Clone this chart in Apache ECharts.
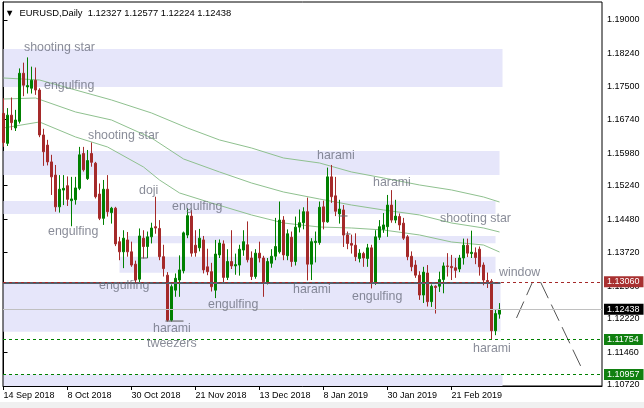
<!DOCTYPE html>
<html><head><meta charset="utf-8">
<script src="https://cdn.jsdelivr.net/npm/echarts@6/dist/echarts.min.js"></script>
<style>html,body{margin:0;padding:0;background:#fff}#c{width:644px;height:408px}</style>
</head><body><div id="c"></div>
<script>
// ---- data (EURUSD daily, 14 Sep 2018 - 11 Mar 2019) ----
const openP = [1.1688,1.1620,1.1684,1.1655,1.1670,1.1779,1.1748,1.1745,1.1763,1.1741,
1.1639,1.1616,1.1578,1.1548,1.1476,1.1514,1.1524,1.1490,1.1492,1.1518,
1.1597,1.1540,1.1597,1.1575,1.1505,1.1450,1.1516,1.1463,1.1473,1.1397,
1.1374,1.1401,1.1374,1.1346,1.1312,1.1405,1.1386,1.1408,1.1431,1.1427,
1.1363,1.1321,1.1219,1.1287,1.1310,1.1331,1.1412,1.1455,1.1389,1.1383,
1.1401,1.1340,1.1329,1.1287,1.1367,1.1392,1.1316,1.1352,1.1342,1.1344,
1.1378,1.1390,1.1360,1.1318,1.1371,1.1360,1.1303,1.1348,1.1364,1.1374,
1.1446,1.1365,1.1407,1.1352,1.1430,1.1440,1.1465,1.1346,1.1395,1.1395,
1.1476,1.1442,1.1544,1.1501,1.1460,1.1469,1.1412,1.1393,1.1389,1.1359,
1.1370,1.1359,1.1383,1.1303,1.1407,1.1425,1.1431,1.1480,1.1446,1.1454,
1.1439,1.1408,1.1364,1.1344,1.1321,1.1276,1.1326,1.1261,1.1296,1.1296,
1.1311,1.1342,1.1341,1.1338,1.1335,1.1360,1.1389,1.1370,1.1372,1.1380,
1.1344,1.1309,1.1307,1.1195,1.12327];
const highP = [1.1722,1.1700,1.1724,1.1696,1.1790,1.1803,1.1815,1.1794,1.1792,1.1745,
1.1653,1.1628,1.1594,1.1571,1.1548,1.1548,1.1545,1.1544,1.1544,1.1612,
1.1612,1.1605,1.1622,1.1578,1.1529,1.1537,1.1548,1.1476,1.1476,1.1408,
1.1423,1.1419,1.1397,1.1354,1.1427,1.1423,1.1420,1.1440,1.1499,1.1446,
1.1390,1.1328,1.1300,1.1325,1.1366,1.1420,1.1473,1.1469,1.1423,1.1426,
1.1410,1.1381,1.1349,1.1401,1.1402,1.1400,1.1380,1.1423,1.1370,1.1390,
1.1423,1.1443,1.1375,1.1380,1.1397,1.1365,1.1360,1.1380,1.1451,1.1488,
1.1455,1.1425,1.1420,1.1454,1.1470,1.1475,1.1497,1.1405,1.1420,1.1488,
1.1490,1.1565,1.1571,1.1544,1.1492,1.1480,1.1420,1.1413,1.1416,1.1380,
1.1374,1.1392,1.1390,1.1423,1.1446,1.1462,1.1503,1.1514,1.1492,1.1461,
1.1451,1.1412,1.1375,1.1355,1.1330,1.1340,1.1344,1.1300,1.1298,1.1329,
1.1350,1.1371,1.1367,1.1360,1.1367,1.1404,1.1404,1.1422,1.1384,1.1386,
1.1350,1.1327,1.1312,1.1242,1.12577];
const lowP = [1.1612,1.1614,1.1650,1.1648,1.1665,1.1727,1.1733,1.1733,1.1730,1.1634,
1.1569,1.1570,1.1503,1.1465,1.1463,1.1480,1.1478,1.1432,1.1481,1.1514,
1.1556,1.1537,1.1567,1.1495,1.1446,1.1435,1.1454,1.1438,1.1387,1.1355,
1.1337,1.1363,1.1340,1.1302,1.1304,1.1359,1.1360,1.1393,1.1415,1.1355,
1.1318,1.1216,1.1216,1.1272,1.1272,1.1325,1.1405,1.1363,1.1363,1.1375,
1.1325,1.1321,1.1284,1.1269,1.1360,1.1305,1.1310,1.1335,1.1322,1.1320,
1.1365,1.1350,1.1310,1.1313,1.1350,1.1272,1.1300,1.1338,1.1355,1.1370,
1.1355,1.1355,1.1340,1.1343,1.1418,1.1425,1.1309,1.1310,1.1350,1.1390,
1.1425,1.1440,1.1485,1.1455,1.1438,1.1385,1.1380,1.1370,1.1353,1.1350,
1.1340,1.1340,1.1291,1.1299,1.1401,1.1417,1.1408,1.1440,1.1439,1.1423,
1.1401,1.1355,1.1330,1.1315,1.1265,1.1258,1.1250,1.1249,1.1234,1.1283,
1.1280,1.1318,1.1310,1.1315,1.1328,1.1345,1.1362,1.1360,1.1346,1.1320,
1.1298,1.1292,1.1176,1.1185,1.12224];
const closeP = [1.1622,1.1684,1.1667,1.1673,1.1779,1.1752,1.1751,1.1763,1.1741,1.1639,
1.1601,1.1578,1.1544,1.1476,1.1516,1.1518,1.1493,1.1494,1.1519,1.1594,
1.1560,1.1581,1.1577,1.1499,1.1450,1.1516,1.1465,1.1473,1.1392,1.1374,
1.1405,1.1374,1.1344,1.1310,1.1410,1.1386,1.1408,1.1428,1.1428,1.1363,
1.1336,1.1219,1.1295,1.1314,1.1333,1.1417,1.1456,1.1371,1.1372,1.1405,
1.1333,1.1329,1.1295,1.1369,1.1394,1.1316,1.1352,1.1342,1.1345,1.1380,
1.1397,1.1356,1.1318,1.1371,1.1360,1.1306,1.1352,1.1364,1.1386,1.1446,
1.1367,1.1415,1.1352,1.1430,1.1440,1.1465,1.1346,1.1397,1.1398,1.1475,
1.1442,1.1544,1.1499,1.1466,1.1471,1.1412,1.1393,1.1389,1.1363,1.1371,
1.1360,1.1383,1.1303,1.1408,1.1431,1.1435,1.1480,1.1446,1.1455,1.1435,
1.1405,1.1363,1.1340,1.1321,1.1276,1.1328,1.1261,1.1296,1.1293,1.1311,
1.1342,1.1341,1.1338,1.1332,1.1360,1.1389,1.1371,1.1373,1.1361,1.1340,
1.1310,1.1306,1.1195,1.1234,1.12438];

const xTickIdx = [0,16,32,48,64,80,96,112];
const xTickLabels = ['14 Sep 2018','8 Oct 2018','30 Oct 2018','21 Nov 2018','13 Dec 2018','8 Jan 2019','30 Jan 2019','21 Feb 2019'];
const yTickValues = [1.19000,1.18240,1.17500,1.16740,1.15980,1.15240,1.14480,1.13720,1.12960,1.12220,1.11460,1.10720];

// horizontal price levels shown on the right scale
const levelValues = [1.13060,1.12438,1.11754,1.10957];

// moving averages, sampled [bar index, price]
const maFast = [[0,1.16549],[9,1.16685],[18,1.16345],[26,1.16118],[35,1.15664],[39,1.15369],[44,1.15075],[52,1.14848],[62,1.14576],[70,1.14394],[79,1.14303],[87,1.14281],[95,1.14235],[104,1.14122],[112,1.13963],[120,1.13895],[124,1.13736]];
const maMid = [[0,1.17206],[8,1.17229],[18,1.16912],[27,1.16730],[37,1.16322],[45,1.15846],[54,1.15551],[62,1.15301],[70,1.15097],[79,1.14938],[87,1.14802],[95,1.14689],[104,1.14576],[112,1.14394],[120,1.14281],[124,1.14190]];
const maSlow = [[0,1.17683],[9,1.17637],[27,1.17184],[37,1.16889],[46,1.16549],[54,1.16277],[62,1.16095],[70,1.15868],[79,1.15755],[87,1.15551],[95,1.15415],[104,1.15256],[112,1.15143],[120,1.14984],[124,1.14870]];

// support / resistance zones
const zoneFrom = [0,0,0,31,29,0,0];
const zoneTo   = [124.75,124,123,123,123,124.25,124.75];
const zoneHigh = [1.18340,1.16027,1.14893,1.14099,1.13630,1.13027,1.10957];
const zoneLow  = [1.17479,1.15483,1.14598,1.13934,1.13267,1.11929,1.10697];

const zoneEdge = [[0,1.13035],[124.25,1.13035]];
const tweezerLine = [[40.5,1.1217],[45,1.1217]];
const trendUp = [[128.25,1.12240],[132.25,1.13056]];
const trendDown = [[134.25,1.13056],[145,1.11015]];
const marks = [[[34.25,1.13600],[36,1.13600]],[[83.75,1.14553],[86,1.14553]],[[85.5,1.14145],[86.75,1.14145]]];

// pattern annotations
const annText  = ['shooting star','engulfing','shooting star','doji','engulfing','engulfing','engulfing','engulfing','harami','tweezers','harami','engulfing','harami','harami','shooting star','window','harami'];
const annIdx   = [5,10,21,33.75,42,11,23.75,51,37.25,35.75,72.25,87,78.25,92.25,109,123.75,117.25];
const annPrice = [1.18363,1.17501,1.16367,1.15120,1.14757,1.14190,1.12965,1.12534,1.11990,1.11650,1.12875,1.12716,1.15914,1.15301,1.14485,1.13260,1.11536];

// ---- chart ----
const FONT = 'Liberation Sans, Arial, sans-serif';
const candles = openP.map((o,i)=>[i,o,closeP[i],lowP[i],highP[i]]);
const levelStyles = [
  {line:'#a52a2a', type:[3,3], bg:'#a83030'},
  {line:'#c0c0c0', type:'solid', bg:'#000000'},
  {line:'#008000', type:[3,3], bg:'#108010'},
  {line:'#008000', type:[3,3], bg:'#108010'}
];
const fmt5 = v => Number(v).toFixed(5);

const chart = echarts.init(document.getElementById('c'), null, {renderer:'canvas'});
const plainLine = (data, color, width, type, z) => ({
  type:'line', data, symbol:'none', silent:true, animation:false, z,
  lineStyle:{color, width, type: type||'solid'}
});

const levelSeries = levelValues.map((v,i)=>({
  type:'line', data:[], silent:true, z:5, animation:false,
  markLine:{ silent:true, symbol:['none','none'], animation:false, precision:5,
    lineStyle:{color:levelStyles[i].line, type:levelStyles[i].type, width:1},
    label:{show:true, position:'end', distance:2, formatter:()=>fmt5(v),
      backgroundColor:levelStyles[i].bg, color:'#fff', fontSize:9, fontFamily:FONT,
      padding:[1,4,0,3], lineHeight:10},
    data:[{yAxis:v}]
  }
}));

const series = [
  { type:'line', data:[], silent:true, z:1,
    markArea:{ silent:true, itemStyle:{color:'#e6e6fa'},
      data: zoneFrom.map((f,i)=>[{coord:[f, zoneHigh[i]]},{coord:[zoneTo[i], zoneLow[i]]}]) } },
  plainLine(maFast,'#8fc18f',1,'solid',2),
  plainLine(maMid,'#8fc18f',1,'solid',2),
  plainLine(maSlow,'#8fc18f',1,'solid',2),
  { type:'candlestick', data:candles, barWidth:2, z:3, silent:true, animation:false,
    itemStyle:{color:'#008000', color0:'#a52a2a', borderColor:'#008000', borderColor0:'#a52a2a', borderWidth:1} },
  ...levelSeries,
  plainLine(zoneEdge,'#55616d',2,'solid',4),
  plainLine(tweezerLine,'#555555',1,'solid',4),
  plainLine(trendUp,'#555555',1,[18,7],4),
  plainLine(trendDown,'#555555',1,[18,7],4),
  ...marks.map(m=>plainLine(m,'#666666',1,'solid',4)),
  { type:'scatter', silent:true, z:6, symbolSize:1, itemStyle:{color:'rgba(0,0,0,0)'},
    data: annText.map((t,i)=>({name:t, value:[annIdx[i], annPrice[i]]})),
    label:{show:true, position:'right', distance:0, formatter:p=>p.name,
      color:'#6c6f7e', fontSize:12.4, fontFamily:FONT} }
];

chart.setOption({
  animation:false,
  backgroundColor:'#ffffff',
  title:{ text:'\u25BC  EURUSD,Daily  1.12327 1.12577 1.12224 1.12438', left:0, top:4,
    textStyle:{fontSize:9.4, fontWeight:'normal', color:'#000', fontFamily:FONT} },
  grid:{ left:3, right:42, top:2, bottom:22, show:true, borderColor:'#000', borderWidth:1,
    containLabel:false, outerBoundsMode:'none' },
  xAxis:{ type:'value', min:-0.125, max:149.625, splitLine:{show:false},
    axisLine:{show:true, lineStyle:{color:'#000'}},
    axisTick:{show:true, length:4, customValues:xTickIdx, lineStyle:{color:'#000'}},
    axisLabel:{ customValues:xTickIdx, align:'left', margin:5, fontSize:9, color:'#000', fontFamily:FONT,
      formatter:v=>{const k=xTickIdx.indexOf(Math.round(v)); return k>=0?xTickLabels[k]:'';} } },
  yAxis:{ type:'value', position:'right', min:1.10697, max:1.19406, scale:true, splitLine:{show:false},
    axisLine:{show:true, lineStyle:{color:'#000'}},
    axisTick:{show:true, length:4, customValues:yTickValues, lineStyle:{color:'#000'}},
    axisLabel:{ customValues:yTickValues, margin:5, fontSize:9, color:'#000', fontFamily:FONT,
      formatter:v=>fmt5(v) } },
  graphic:[{type:'rect', left:0, bottom:0, shape:{width:644, height:6}, style:{fill:'#f0f0f0'}, silent:true}],
  series
});
</script></body></html>
